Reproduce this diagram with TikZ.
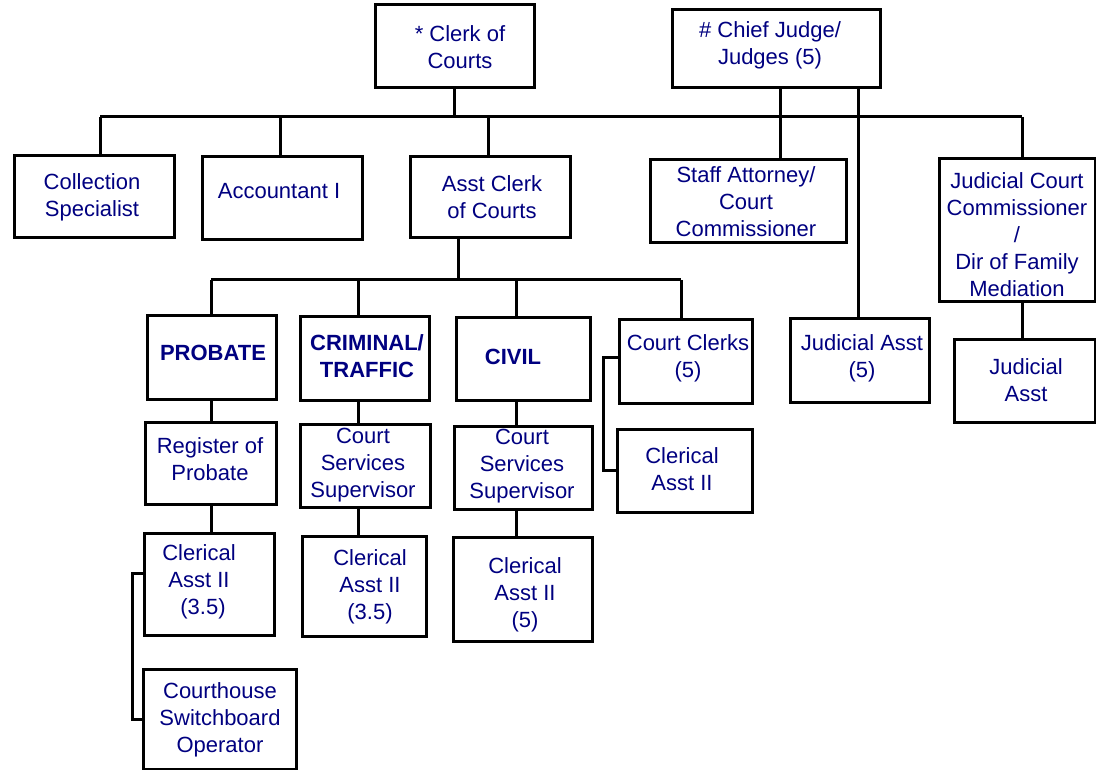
\documentclass[tikz,border=0pt]{standalone}
\usepackage{fontspec}
\setmainfont{Liberation Sans}
\definecolor{navy}{RGB}{0,0,128}
\tikzset{
  box/.style={draw=black, line width=3pt, inner sep=0pt},
  txt/.style={text=navy, align=center, inner sep=0pt,
    font=\fontsize{22}{27}\selectfont},
  btxt/.style={txt, font=\fontsize{22}{27}\selectfont\bfseries},
  link/.style={draw=black, line width=3pt}
}
% \orgbox{name}{left}{top}{right}{bottom}
\newcommand{\orgbox}[5]{%
  \node[box, minimum width={#4-#2}, minimum height={#5-#3}]
    (#1) at ({(#2+#4)/2},{(#3+#5)/2}) {};}
\begin{document}
\begin{tikzpicture}[x=1pt, y=-1pt]
\useasboundingbox (0,0) rectangle (1096,770);

% ---- boxes ----
\orgbox{clerk}{375}{5}{534}{88}
\orgbox{chief}{672}{10}{880}{88}
\orgbox{coll}{14}{156}{174}{238}
\orgbox{acct}{202}{157}{362}{240}
\orgbox{asst}{410}{157}{570}{238}
\orgbox{staff}{650}{160}{846}{243}
\orgbox{jcc}{939}{159}{1095}{302}
\orgbox{jafive}{790}{319}{929}{402}
\orgbox{ja}{954}{340}{1095}{422}
\orgbox{probate}{147}{316}{276}{399}
\orgbox{crim}{300}{317}{429}{400}
\orgbox{civil}{456}{318}{590}{400}
\orgbox{clerks}{619}{320}{752}{403}
\orgbox{regprob}{145}{422}{276}{504}
\orgbox{csscrim}{300}{424}{430}{507}
\orgbox{csscivil}{454}{426}{592}{509}
\orgbox{clerright}{617}{429}{752}{512}
\orgbox{clerprob}{144}{533}{274}{635}
\orgbox{clercrim}{302}{536}{426}{636}
\orgbox{clercivil}{453}{537}{592}{641}
\orgbox{operator}{143}{669}{296}{769}

% ---- texts ----
\node[txt] (clerk-t) at (460,47) {* Clerk of\\Courts};
\node[txt] (chief-t) at (770,45) {\# Chief Judge/\\Judges (5)};
\node[txt] (coll-t) at (92,197) {Collection\\Specialist};
\node[txt] (acct-t) at (279,191) {Accountant I};
\node[txt] (asst-t) at (492,197) {Asst Clerk\\of Courts};
\node[txt] (staff-t) at (746,202) {Staff Attorney/\\Court\\Commissioner};
\node[txt] (jcc-t) at (1017,235) {Judicial Court\\Commissioner\\/\\Dir of Family\\Mediation};
\node[txt] (jafive-t) at (862,358) {Judicial Asst\\(5)};
\node[txt] (ja-t) at (1026,380) {Judicial\\Asst};
\node[btxt] (probate-t) at (213,353) {PROBATE};
\node[btxt] (crim-t) at (367,356) {CRIMINAL/\\TRAFFIC};
\node[btxt] (civil-t) at (513,357) {CIVIL};
\node[txt] (clerks-t) at (688,358) {Court Clerks\\(5)};
\node[txt] (regprob-t) at (210,459) {Register of\\Probate};
\node[txt] (csscrim-t) at (363,465) {Court\\Services\\Supervisor};
\node[txt] (csscivil-t) at (522,466) {Court\\Services\\Supervisor};
\node[txt] (clerright-t) at (682,469) {Clerical\\Asst II};
\node[txt] (clerprob-t) at (199,582) {Clerical\\Asst II\\\hspace*{8pt}(3.5)};
\node[txt] (clercrim-t) at (370,587) {Clerical\\Asst II\\(3.5)};
\node[txt] (clercivil-t) at (525,595) {Clerical\\Asst II\\(5)};
\node[txt] (operator-t) at (220,720) {Courthouse\\Switchboard\\Operator};

% ---- junction points ----
\coordinate (busA) at (100,117);
\coordinate (busB) at (1022,117);
\coordinate (accJ) at (280,117);
\coordinate (asstJ) at (488,117);
\coordinate (staffJ) at (780,117);
\coordinate (jafiveJ) at (858,117);
\coordinate (downJ) at (458,280);
\coordinate (busC) at (211,280);
\coordinate (busD) at (681,280);
\coordinate (crimJ) at (358,280);
\coordinate (civilJ) at (516,280);
\coordinate (brA) at (603,357);
\coordinate (brB) at (132,573);

% ---- connectors: clerk of courts ----
\draw[link] (clerk.south) -- (clerk.south |- busA);
\draw[link] (busA) -- (busB);
\draw[link] (busA) -- (busA |- coll.north);
\draw[link] (accJ) -- (accJ |- acct.north);
\draw[link] (asstJ) -- (asstJ |- asst.north);
\draw[link] (busB) -- (busB |- jcc.north);
\draw[link] (busB |- jcc.south) -- (busB |- ja.north);

% ---- connectors: judges ----
\draw[link] (staffJ |- chief.south) -- (staffJ |- staff.north);
\draw[link] (jafiveJ |- chief.south) -- (jafiveJ |- jafive.north);

% ---- connectors: assistant clerk ----
\draw[link] (downJ |- asst.south) -- (downJ);
\draw[link] (busC) -- (busD);
\draw[link] (busC) -- (busC |- probate.north);
\draw[link] (crimJ) -- (crimJ |- crim.north);
\draw[link] (civilJ) -- (civilJ |- civil.north);
\draw[link] (busD) -- (busD |- clerks.north);

% ---- connectors: divisions ----
\draw[link] (busC |- probate.south) -- (busC |- regprob.north);
\draw[link] (busC |- regprob.south) -- (busC |- clerprob.north);
\draw[link] (crimJ |- crim.south) -- (crimJ |- csscrim.north);
\draw[link] (crimJ |- csscrim.south) -- (crimJ |- clercrim.north);
\draw[link] (civilJ |- civil.south) -- (civilJ |- csscivil.north);
\draw[link] (civilJ |- csscivil.south) -- (civilJ |- clercivil.north);
\draw[link] (clerks.west |- brA) -- (brA) |- (clerright.west);
\draw[link] (clerprob.west |- brB) -- (brB) |- (operator.west);
\end{tikzpicture}
\end{document}
